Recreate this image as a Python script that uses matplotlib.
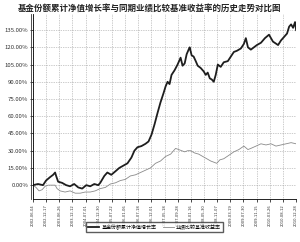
import matplotlib
matplotlib.use("Agg")
import matplotlib.pyplot as plt
import numpy as np

plt.rcParams['font.family'] = ['Noto Sans CJK SC', 'DejaVu Sans']

title = "基金份额累计净值增长率与同期业绩比较基准收益率的历史走势对比图"
fund_label = "基金份额累计净值增长率"
bench_label = "业绩比较基准收益率"

date_labels = ['2002-06-04', '2002-12-17', '2003-06-26', '2003-12-12', '2004-07-01',
               '2004-12-30', '2005-07-22', '2006-01-06', '2006-07-18', '2006-12-01',
               '2007-05-18', '2007-09-28', '2008-01-16', '2008-05-30', '2008-11-07',
               '2009-03-19', '2009-07-30', '2009-11-15', '2010-03-26', '2010-08-12',
               '2010-12-28']

# x in units of tick intervals, y in %
fund_x = [0.0, 0.38, 0.76, 0.99, 1.30, 1.53, 1.68, 1.76, 1.91, 2.21, 2.52, 2.82, 3.13,
          3.44, 3.74, 4.05, 4.35, 4.66, 4.96, 5.11, 5.42, 5.65, 5.95, 6.26, 6.56, 6.87,
          7.18, 7.48, 7.71, 7.94, 8.24, 8.55, 8.78, 9.01, 9.24, 9.47, 9.69, 9.92, 10.08,
          10.23, 10.38, 10.53, 10.76, 10.99, 11.22, 11.37, 11.53, 11.68, 11.83, 11.91,
          12.06, 12.21, 12.37, 12.52, 12.75, 12.98, 13.13, 13.28, 13.44, 13.59, 13.74,
          13.89, 14.05, 14.27, 14.50, 14.81, 15.04, 15.27, 15.50, 15.80, 16.03, 16.18,
          16.34, 16.56, 16.79, 17.02, 17.33, 17.63, 17.94, 18.24, 18.63, 18.85, 19.08,
          19.31, 19.47, 19.62, 19.77, 19.92, 20.0]
fund_y = [0, 1, 0, 4, 7, 9, 11, 8, 3, 2, 0, -1, 1, -2, -3, 0, -1, 1, 0, 2, 8, 11, 9, 12,
          15, 17, 19, 24, 30, 33, 34, 36, 38, 44, 53, 63, 72, 80, 86, 90, 88, 96, 100,
          105, 111, 104, 106, 114, 118, 120, 113, 112, 108, 104, 102, 99, 96, 98, 93, 92,
          90, 96, 105, 103, 107, 108, 112, 116, 117, 119, 123, 128, 120, 118, 120, 122,
          124, 128, 131, 125, 122, 126, 129, 132, 138, 140, 137, 142, 135]

bench_x = [0.0, 0.23, 0.46, 0.69, 0.92, 1.15, 1.45, 1.68, 1.83, 2.06, 2.44, 2.82, 3.21,
           3.59, 3.97, 4.35, 4.73, 5.11, 5.50, 5.88, 6.26, 6.64, 7.02, 7.40, 7.79, 8.17,
           8.55, 8.93, 9.31, 9.69, 10.08, 10.46, 10.84, 11.07, 11.30, 11.53, 11.76, 11.98,
           12.29, 12.60, 12.90, 13.21, 13.51, 13.74, 13.97, 14.20, 14.50, 14.89, 15.27,
           15.65, 16.03, 16.34, 16.56, 16.95, 17.33, 17.71, 18.09, 18.47, 18.85, 19.24,
           19.62, 20.0]
bench_y = [0, -2, -5, -4, -1, 0, 0, 0, -3, -5, -6, -5, -7, -7, -6, -6, -5, -3, -2, 1, 2,
           4, 5, 8, 9, 11, 13, 15, 19, 21, 25, 27, 32, 31, 30, 29, 30, 30, 28, 27, 25, 23,
           21, 20, 19, 22, 23, 26, 29, 31, 34, 31, 32, 34, 36, 35, 36, 34, 35, 36, 37, 36]

yticks = [0, 15, 30, 45, 60, 75, 90, 105, 120, 135]

fig = plt.figure(figsize=(3.0, 2.42), dpi=100)
ax = fig.add_axes([0.11, 0.178, 0.877, 0.764])

ax.plot(bench_x, bench_y, color="#8a8a8a", lw=0.6, label=bench_label)
ax.plot(fund_x, fund_y, color="#1e1e1e", lw=1.3, label=fund_label)

ax.set_xlim(0, 20)
ax.set_ylim(-12, 149)
ax.set_xticks(range(len(date_labels)))
ax.set_xticklabels(date_labels, rotation=90, fontsize=2.7, color="#333333",
                   family=['Liberation Sans Narrow', 'DejaVu Sans'])
ax.set_yticks(yticks)
ax.set_yticklabels(["%.2f%%" % v for v in yticks], fontsize=4.3, color="#333333")
ax.tick_params(axis='both', length=2, width=0.5, pad=1.5)
ax.grid(True, linestyle=(0, (1, 1.5)), color="#999999", lw=0.5)
ax.set_axisbelow(True)
for s in ["top", "right"]:
    ax.spines[s].set_visible(False)
ax.spines["left"].set_linewidth(0.6)
ax.spines["bottom"].set_linewidth(0.6)
ax.plot([-0.008, -0.008], [0, 1], transform=ax.transAxes, color="#333333",
        lw=0.6, clip_on=False)

handles, labels = ax.get_legend_handles_labels()
fig.legend(handles[::-1], labels[::-1], loc="center", bbox_to_anchor=(0.515, 0.062),
           ncol=2, fontsize=3.6, frameon=True, fancybox=False, edgecolor="#333333",
           handlelength=2.2, borderpad=0.35, columnspacing=1.2, handletextpad=0.5)

fig.text(0.5, 0.965, title, ha="center", va="center", fontsize=6.1,
         fontweight="bold", color="#222222")

fig.savefig("out.png", dpi=100)
